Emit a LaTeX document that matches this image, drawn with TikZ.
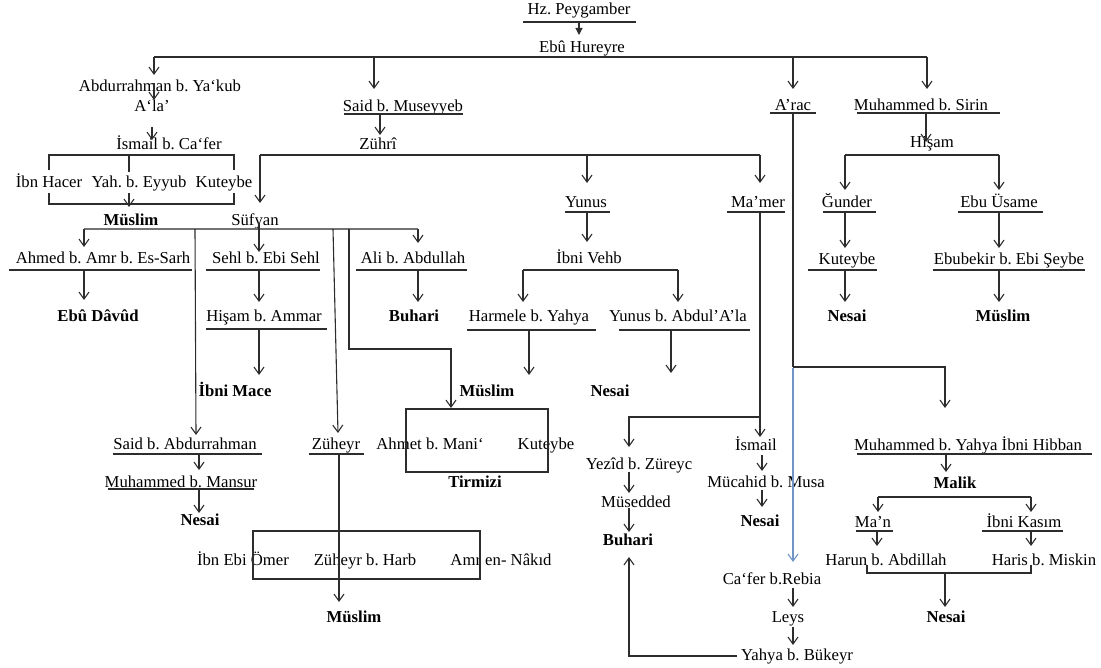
\documentclass[tikz,border=0pt]{standalone}
\usepackage{fontspec}
\setmainfont{Liberation Serif}
\usetikzlibrary{arrows.meta}
\definecolor{lnc}{RGB}{45,45,45}
\definecolor{bluel}{RGB}{112,150,200}
\newcommand\ulin[3]{\draw[ulw] (#1,#2) -- (#3,#2);}
\frenchspacing
\begin{document}
\frenchspacing
\begin{tikzpicture}[x=1pt,y=-1pt,
  t/.style={anchor=base, inner sep=0pt, font=\fontsize{16.7}{18}\selectfont, text=black},
  b/.style={t, font=\fontsize{16.7}{18}\selectfont\bfseries},
  ln/.style={draw=lnc, line width=1.1pt},
  ulw/.style={draw=lnc, line width=1.1pt},
  arr/.style={ln, -{Straight Barb[length=7pt,width=10pt,line width=1.1pt]}},
  farr/.style={ln, -{Triangle[length=7pt,width=7pt]}},
  barr/.style={draw=bluel, line width=1.1pt, -{Straight Barb[length=7pt,width=10pt,line width=1.1pt]}},
  grayln/.style={draw=black!55, line width=1.1pt}]
\useasboundingbox (0,0) rectangle (1101,668);
% ---------- text nodes ----------
\node[t] (hz) at (579,15) {Hz. Peygamber};
\node[t] (ebu) at (582,53) {Ebû Hureyre};
\node[t] (abd) at (160,92) {Abdurrahman b. Ya‘kub};
\node[t] (ala) at (152,112) {A‘la’};
\node[t] (ismail) at (169,150) {İsmail b. Ca‘fer};
\node[t] (ibnhacer) at (49,188) {İbn Hacer};
\node[t] (yah) at (139,188) {Yah. b. Eyyub};
\node[t] (kut1) at (224,188) {Kuteybe};
\node[b] (muslim1) at (131,226) {Müslim};
\node[t] (sufyan) at (255,226) {Süfyan};
\node[t] (said) at (403,112) {Said b. Museyyeb};
\node[t] (zuhri) at (378,150) {Zührî};
\node[t] (yunus) at (586,208) {Yunus};
\node[t] (mamer) at (758,208) {Ma’mer};
\node[t] (arac) at (793,111) {A’rac};
\node[t] (sirin) at (921,111) {Muhammed b. Sirin};
\node[t] (hisam1) at (932,148) {Hişam};
\node[t] (gunder) at (847,208) {Ğunder};
\node[t] (usame) at (999,208) {Ebu Üsame};
\node[t] (kut2) at (847,265) {Kuteybe};
\node[t] (ebubekir) at (1009,265) {Ebubekir b. Ebi Şeybe};
\node[b] (nesai1) at (847,322) {Nesai};
\node[b] (muslimr) at (1003,322) {Müslim};
\node[t] (ahmed) at (103,264) {Ahmed b. Amr b. Es-Sarh};
\node[b] (davud) at (98,322) {Ebû Dâvûd};
\node[t] (sehl) at (266,264) {Sehl b. Ebi Sehl};
\node[t] (hisam2) at (264,322) {Hişam b. Ammar};
\node[b] (mace) at (235,397) {İbni Mace};
\node[t] (ali) at (413,264) {Ali b. Abdullah};
\node[b] (buhari1) at (414,322) {Buhari};
\node[t] (vehb) at (589,264) {İbni Vehb};
\node[t] (harmele) at (529,322) {Harmele b. Yahya};
\node[t] (yunusb) at (678,322) {Yunus b. Abdul’A’la};
\node[b] (muslim2) at (487,397) {Müslim};
\node[b] (nesai2) at (610,397) {Nesai};
\node[t] (saidabd) at (185,449) {Said b. Abdurrahman};
\node[t] (mansur) at (181,487) {Muhammed b. Mansur};
\node[b] (nesai3) at (200,525) {Nesai};
\node[t] (zuheyr) at (336,449) {Züheyr};
\node[t] (omer) at (243,565) {İbn Ebi Ömer};
\node[t] (harb) at (365,565) {Züheyr b. Harb};
\node[t] (amr) at (501,565) {Amr en- Nâkıd};
\node[b] (muslim3) at (354,622) {Müslim};
\node[t] (ahmet) at (430,449) {Ahmet b. Mani‘};
\node[t] (kut3) at (546,449) {Kuteybe};
\node[b] (tirmizi) at (475,487) {Tirmizi};
\node[t] (yezid) at (639,469) {Yezîd b. Züreyc};
\node[t] (musedded) at (636,507) {Müsedded};
\node[b] (buhari2) at (628,545) {Buhari};
\node[t] (ismail2) at (756,450) {İsmail};
\node[t] (mucahid) at (766,487) {Mücahid b. Musa};
\node[b] (nesai4) at (760,526) {Nesai};
\node[t] (cafer) at (772,584) {Ca‘fer b.Rebia};
\node[t] (leys) at (788,622) {Leys};
\node[t] (yahya) at (797,660) {Yahya b. Bükeyr};
\node[t] (hibban) at (968,450) {Muhammed b. Yahya İbni Hibban};
\node[b] (malik) at (955,488) {Malik};
\node[t] (man) at (873,527) {Ma’n};
\node[t] (kasim) at (1024,527) {İbni Kasım};
\node[t] (harun) at (886,565) {Harun b. Abdillah};
\node[t] (haris) at (1044,565) {Haris b. Miskin};
\node[b] (nesai5) at (946,622) {Nesai};
% ---------- underlines ----------
\ulin{523}{22}{636}
\ulin{344}{114}{463}
\ulin{770}{113}{816}
\ulin{857}{113}{1000}
\ulin{565}{212}{610}
\ulin{727}{212}{785}
\ulin{823}{212}{876}
\ulin{958}{212}{1043}
\ulin{808}{270}{877}
\ulin{933}{270}{1085}
\ulin{9}{270}{192}
\ulin{206}{270}{320}
\ulin{206}{329}{327}
\ulin{356}{270}{467}
\ulin{467}{330}{596}
\ulin{619}{330}{750}
\ulin{113}{454}{262}
\ulin{108}{489}{254}
\ulin{309}{454}{364}
\ulin{857}{454}{1092}
\ulin{856}{531}{893}
\ulin{982}{531}{1063}
% ---------- connectors ----------
\draw[farr] (579,22) -- (579,35);
\draw[ln] (154,57) -- (927,57);
\draw[arr] (154,57) -- (154,75);
\draw[arr] (374,57) -- (374,89);
\draw[arr] (793,57) -- (793,89);
\draw[arr] (927,57) -- (927,89);
\draw[arr] (154,83) -- (154,100);
\draw[arr] (152,127) -- (152,140);
% Ismail bracket
\draw[ln] (49,170) -- (49,155) -- (234,155) -- (234,170);
\draw[ln] (129,155) -- (129,172);
\draw[ln] (49,193) -- (49,204) -- (234,204) -- (234,193);
\draw[arr] (129,193) -- (129,207);
% Said / Zuhri
\draw[arr] (380,114) -- (380,135);
\draw[ln] (260,155) -- (760,155);
\draw[arr] (260,155) -- (260,203);
\draw[arr] (587,155) -- (587,183);
\draw[arr] (760,155) -- (760,183);
% Sufyan
\draw[grayln] (84,229) -- (418,229);
\draw[arr] (84,229) -- (84,247);
\draw[arr] (259,223) -- (259,252);
\draw[arr] (418,229) -- (418,243);
\draw[arr] (195,229) -- (196,435);
\draw[arr] (333,229) -- (338,433);
\draw[arr] (349,229) -- (349,349) -- (451,349) -- (451,408);
\draw[arr] (84,270) -- (84,300);
\draw[arr] (259,270) -- (259,302);
\draw[arr] (259,329) -- (259,375);
\draw[arr] (418,270) -- (418,302);
% Yunus
\draw[arr] (587,212) -- (587,242);
\draw[ln] (523,270) -- (678,270);
\draw[arr] (523,270) -- (523,302);
\draw[arr] (678,270) -- (678,302);
\draw[arr] (529,330) -- (529,375);
\draw[arr] (671,330) -- (671,373);
% Ma'mer
\draw[arr] (760,212) -- (760,437);
\draw[arr] (760,417) -- (629,417) -- (629,447);
\draw[arr] (629,472) -- (629,493);
\draw[arr] (629,508) -- (629,532);
\draw[arr] (762,455) -- (762,471);
\draw[arr] (762,490) -- (762,507);
% A'rac
\draw[ln] (793,113) -- (793,367);
\draw[arr] (793,367) -- (945,367) -- (945,408);
\draw[barr] (793,368) -- (793,562);
\draw[arr] (793,588) -- (793,607);
\draw[arr] (793,627) -- (793,645);
\draw[arr] (737,656) -- (629,656) -- (629,557);
% Hibban / Malik
\draw[arr] (946,454) -- (946,472);
\draw[ln] (878,497) -- (1031,497);
\draw[arr] (878,497) -- (878,512);
\draw[arr] (1031,497) -- (1031,512);
\draw[arr] (877,531) -- (877,546);
\draw[arr] (1031,531) -- (1031,546);
\draw[ln] (867,565) -- (867,573) -- (1031,573) -- (1031,565);
\draw[arr] (945,573) -- (945,607);
% Sirin / Hisam
\draw[arr] (926,113) -- (926,142);
\draw[ln] (845,155) -- (999,155);
\draw[arr] (845,155) -- (845,190);
\draw[arr] (999,155) -- (999,190);
\draw[arr] (845,212) -- (845,248);
\draw[arr] (845,270) -- (845,302);
\draw[arr] (999,212) -- (999,248);
\draw[arr] (999,270) -- (999,302);
% Said b. Abdurrahman chain
\draw[arr] (199,454) -- (199,470);
\draw[arr] (199,489) -- (199,513);
% Zuheyr
\draw[arr] (339,454) -- (339,602);
\draw[ln] (253,531) rectangle (480,579);
% Tirmizi box
\draw[ln] (406,409) rectangle (548,472);
\end{tikzpicture}
\end{document}
